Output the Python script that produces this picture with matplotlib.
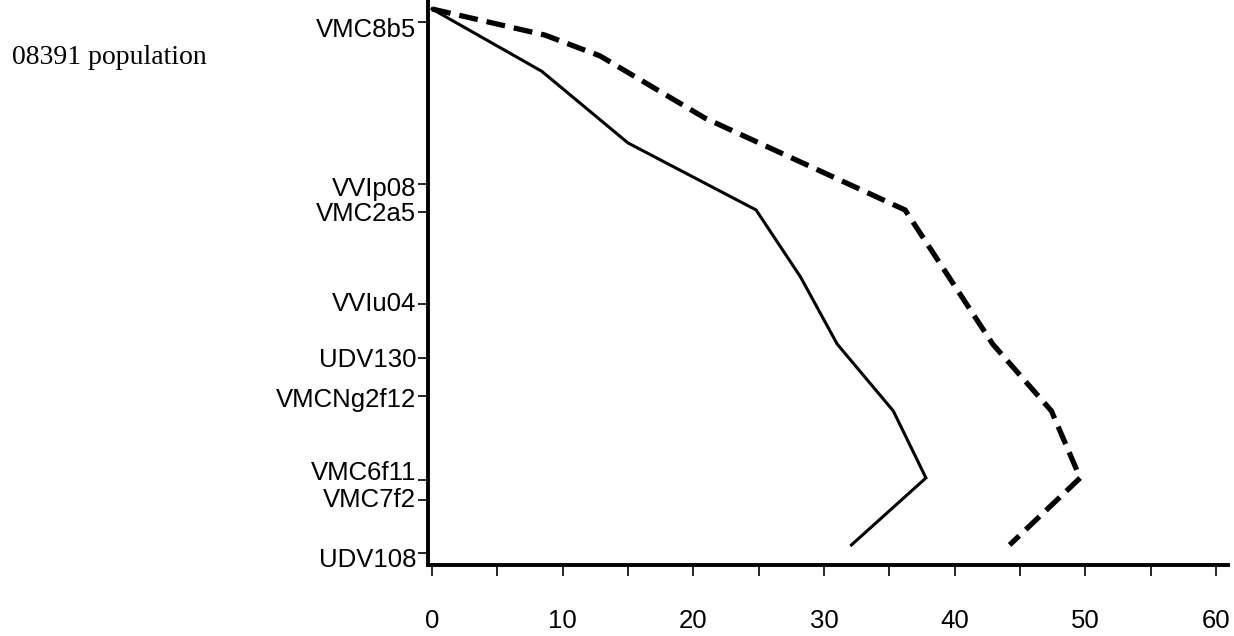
import numpy as np
import matplotlib
matplotlib.use('Agg')
import matplotlib.pyplot as plt
from matplotlib.ticker import MultipleLocator
from matplotlib.transforms import ScaledTranslation

# Map positions (cM) of the markers on the vertical axis
markers = ['VMC8b5', 'VVIp08', 'VMC2a5', 'VVIu04', 'UDV130',
           'VMCNg2f12', 'VMC6f11', 'VMC7f2', 'UDV108']
marker_pos = [1.9, 26.1, 30.3, 44.0, 52.1, 57.8, 70.3, 73.3, 81.2]
# small vertical shifts of the labels (pixels) so they don't overlap
label_shift = [6, 3, 0, -2, -1, 1, -9, -3, 5]

# Solid profile
solid_pos = [0, 9.3, 20, 30, 40, 50, 60, 70, 80]
solid_val = [0, 8.4, 15.0, 24.8, 28.2, 31.0, 35.3, 37.8, 32.1]

# Dashed profile
dashed_pos = [0, 3.9, 7.0, 16.3, 30.0, 40, 50, 60, 70, 80]
dashed_val = [0, 8.65, 12.85, 20.9, 36.2, 39.55, 42.9, 47.4, 49.6, 44.2]

x_ticks = [0, 10, 20, 30, 40, 50, 60]

fig = plt.figure(figsize=(12.34, 6.36), dpi=100)
ax = fig.add_axes([0.3468, 0.1116, 0.995 - 0.3468, 1 - 0.1116])

ax.plot(solid_val, solid_pos, color='black', lw=2.2, solid_joinstyle='miter')
ax.plot(dashed_val, dashed_pos, color='black', lw=3.8, dashes=(3.6, 1.7),
        dash_capstyle='butt', dash_joinstyle='miter')

ax.set_xlim(-0.31, 60.9)
ax.set_ylim(83.0, -1.34)

# Spines: only left and bottom, thick
for s in ['top', 'right']:
    ax.spines[s].set_visible(False)
for s in ['left', 'bottom']:
    ax.spines[s].set_linewidth(2.8)

# X axis ticks
ax.set_xticks(x_ticks)
ax.xaxis.set_minor_locator(MultipleLocator(5))
ax.tick_params(axis='x', which='both', direction='out', length=8, width=1.2,
               pad=24, labelsize=18.5)
for lab in ax.get_xticklabels():
    lab.set_fontfamily('Liberation Sans')

# Y axis ticks with marker names
ax.set_yticks(marker_pos)
ax.set_yticklabels(markers)
ax.tick_params(axis='y', which='both', direction='out', length=7.5, width=1.2,
               pad=1, labelsize=18.5)
for lab, dy in zip(ax.get_yticklabels(), label_shift):
    lab.set_fontfamily('Liberation Sans')
    lab.set_transform(lab.get_transform() +
                      ScaledTranslation(0, -dy / 100, fig.dpi_scale_trans))

# Population name in the top left
fig.text(0.0097, 0.910, '08391 population', fontsize=20,
         family='Liberation Serif', va='center', ha='left')

fig.savefig('out.png', dpi=100)
